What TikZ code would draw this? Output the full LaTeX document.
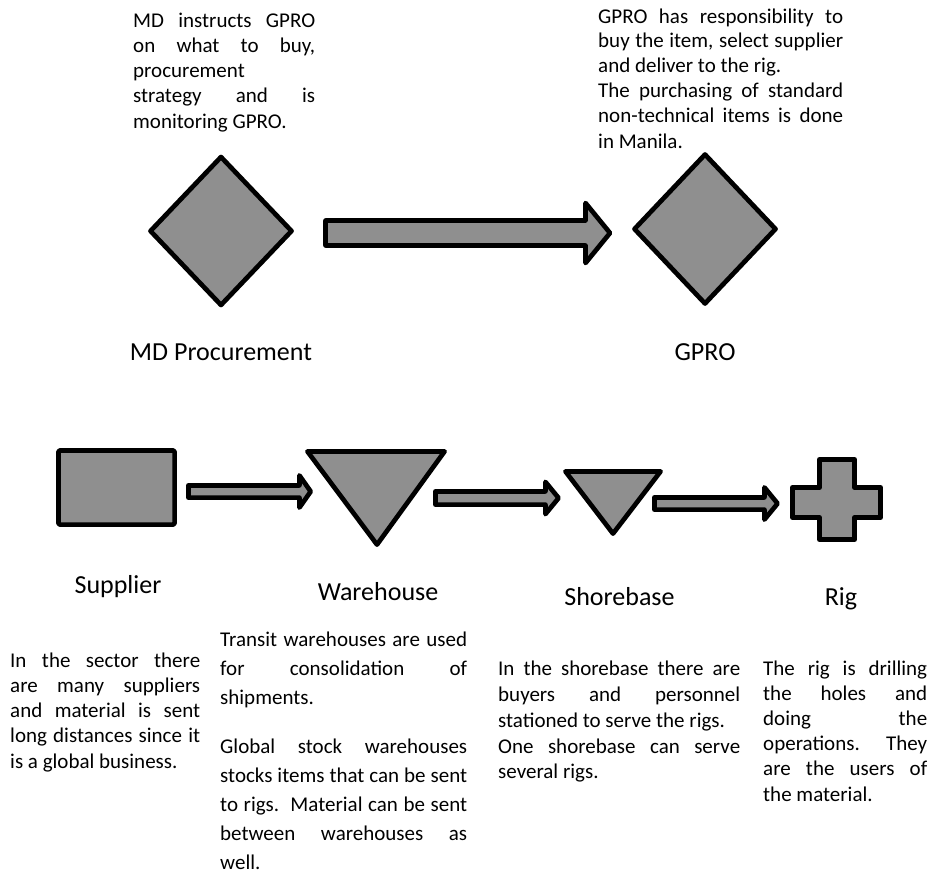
\documentclass[tikz,border=0pt]{standalone}
\usepackage{fontspec}
\setmainfont{Carlito}
\definecolor{shapegray}{RGB}{143,143,143}
% a line of text stretched to the full width of its column
\newcommand{\jline}[2]{\makebox[#1][s]{#2}}
% block arrow: name of tip, start x, tip x, centre y, shaft half height, head half height, head length
\newcommand{\blkarrow}[7]{%
  \draw[solid shape] (#2,{#4-#5}) -- ({#3-#7},{#4-#5}) -- ({#3-#7},{#4-#6}) -- (#3,#4)
    -- ({#3-#7},{#4+#6}) -- ({#3-#7},{#4+#5}) -- (#2,{#4+#5}) -- cycle;
  \coordinate (#1) at (#3,#4);}
\begin{document}
\begin{tikzpicture}[x=1pt,y=-1pt,
  solid shape/.style={draw=black, fill=shapegray, line width=4.7pt, line join=round},
  body/.style={inner sep=0pt, anchor=base west, font=\fontsize{21}{25}\selectfont},
  caption/.style={inner sep=0pt, anchor=base, font=\fontsize{26}{31}\selectfont}]
\fill[white] (0,0) rectangle (931,881);
\useasboundingbox (0,0) rectangle (931,881);

% ---------- upper level: MD Procurement -> GPRO ----------
\coordinate (md) at (221,231);
\coordinate (gpro) at (705,229);
\draw[solid shape, shift={(md)}] (0,-74) -- (70.5,0) -- (0,74) -- (-70.5,0) -- cycle;
\draw[solid shape, shift={(gpro)}] (0,-74.5) -- (70.5,0) -- (0,74.5) -- (-70.5,0) -- cycle;
\blkarrow{mdtip}{325.5}{610}{233}{12.5}{30}{24.5}

\node[caption] (mdlbl) at (221,360) {MD Procurement};
\node[caption] (gprolbl) at (705,360) {GPRO};

% note above MD Procurement
\node[body] (mdn1) at (133,27)    {\jline{182pt}{MD instructs GPRO}};
\node[body] (mdn2) at (133,52.3)  {\jline{182pt}{on what to buy,}};
\node[body] (mdn3) at (133,77.5)  {procurement};
\node[body] (mdn4) at (133,102.7) {\jline{182pt}{strategy and is}};
\node[body] (mdn5) at (133,128)   {monitoring GPRO.};

% note above GPRO
\node[body] (gn1) at (598,23)    {\jline{245pt}{GPRO has responsibility to}};
\node[body] (gn2) at (598,47.7)  {\jline{245pt}{buy the item, select supplier}};
\node[body] (gn3) at (598,72.4)  {and deliver to the rig.};
\node[body] (gn4) at (598,97.8)  {\jline{245pt}{The purchasing of standard}};
\node[body] (gn5) at (598,122.9) {\jline{245pt}{non-technical items is done}};
\node[body] (gn6) at (598,148)   {in Manila.};

% ---------- lower level: supply chain ----------
\draw[solid shape, rounded corners=2pt] (58.4,450.4) rectangle (174.6,524.6);
\coordinate (supplier) at (116.5,487.5);
\draw[solid shape] (307.4,451.4) -- (444.6,451.4) -- (377,544.6) -- cycle;
\coordinate (warehouse) at (377,480);
\draw[solid shape] (565.4,471.4) -- (660.6,471.4) -- (613,533.6) -- cycle;
\coordinate (shorebase) at (613,492);
\draw[solid shape] (819.4,459.4) -- (854.6,459.4) -- (854.6,487.4) -- (880.6,487.4)
  -- (880.6,517.6) -- (854.6,517.6) -- (854.6,539.6) -- (819.4,539.6) -- (819.4,517.6)
  -- (792.4,517.6) -- (792.4,487.4) -- (819.4,487.4) -- cycle;
\coordinate (rig) at (837,500);

\blkarrow{a1tip}{188.4}{310.7}{491.5}{6.1}{16.1}{11.3}
\blkarrow{a2tip}{435.4}{558.6}{498}{6.6}{16.1}{13.2}
\blkarrow{a3tip}{654.4}{777.6}{503.5}{6.1}{16.1}{13.2}

\node[caption] (suplbl) at (118,593) {Supplier};
\node[caption] (warlbl) at (378,600) {Warehouse};
\node[caption] (shblbl) at (619.5,605) {Shorebase};
\node[caption] (riglbl) at (841,605) {Rig};

% Supplier note
\node[body] (sn1) at (10,667)   {\jline{190pt}{In the sector there}};
\node[body] (sn2) at (10,692.3) {\jline{190pt}{are many suppliers}};
\node[body] (sn3) at (10,717.6) {\jline{190pt}{and material is sent}};
\node[body] (sn4) at (10,742.9) {\jline{190pt}{long distances since it}};
\node[body] (sn5) at (10,768.2) {is a global business.};

% Warehouse note
\node[body] (wn1) at (220,646) {\jline{247pt}{Transit warehouses are used}};
\node[body] (wn2) at (220,675) {\jline{247pt}{for consolidation of}};
\node[body] (wn3) at (220,704) {shipments.};
\node[body] (wn4) at (220,753) {\jline{247pt}{Global stock warehouses}};
\node[body] (wn5) at (220,782) {\jline{247pt}{stocks items that can be sent}};
\node[body] (wn6) at (220,811) {\jline{247pt}{to rigs.\ \ Material can be sent}};
\node[body] (wn7) at (220,840) {\jline{247pt}{between warehouses as}};
\node[body] (wn8) at (220,869) {well.};

% Shorebase note
\node[body] (bn1) at (498,675.5) {\jline{242pt}{In the shorebase there are}};
\node[body] (bn2) at (498,701.4) {\jline{242pt}{buyers and personnel}};
\node[body] (bn3) at (498,727.2) {stationed to serve the rigs.};
\node[body] (bn4) at (498,753)   {\jline{242pt}{One shorebase can serve}};
\node[body] (bn5) at (498,778.8) {several rigs.};

% Rig note
\node[body] (rn1) at (763,675.5) {\jline{164pt}{The rig is drilling}};
\node[body] (rn2) at (763,700.6) {\jline{164pt}{the holes and}};
\node[body] (rn3) at (763,725.7) {\jline{164pt}{doing the}};
\node[body] (rn4) at (763,750.8) {\jline{164pt}{operations.\ \ They}};
\node[body] (rn5) at (763,775.9) {\jline{164pt}{are the users of}};
\node[body] (rn6) at (763,801)   {the material.};
\end{tikzpicture}
\end{document}
